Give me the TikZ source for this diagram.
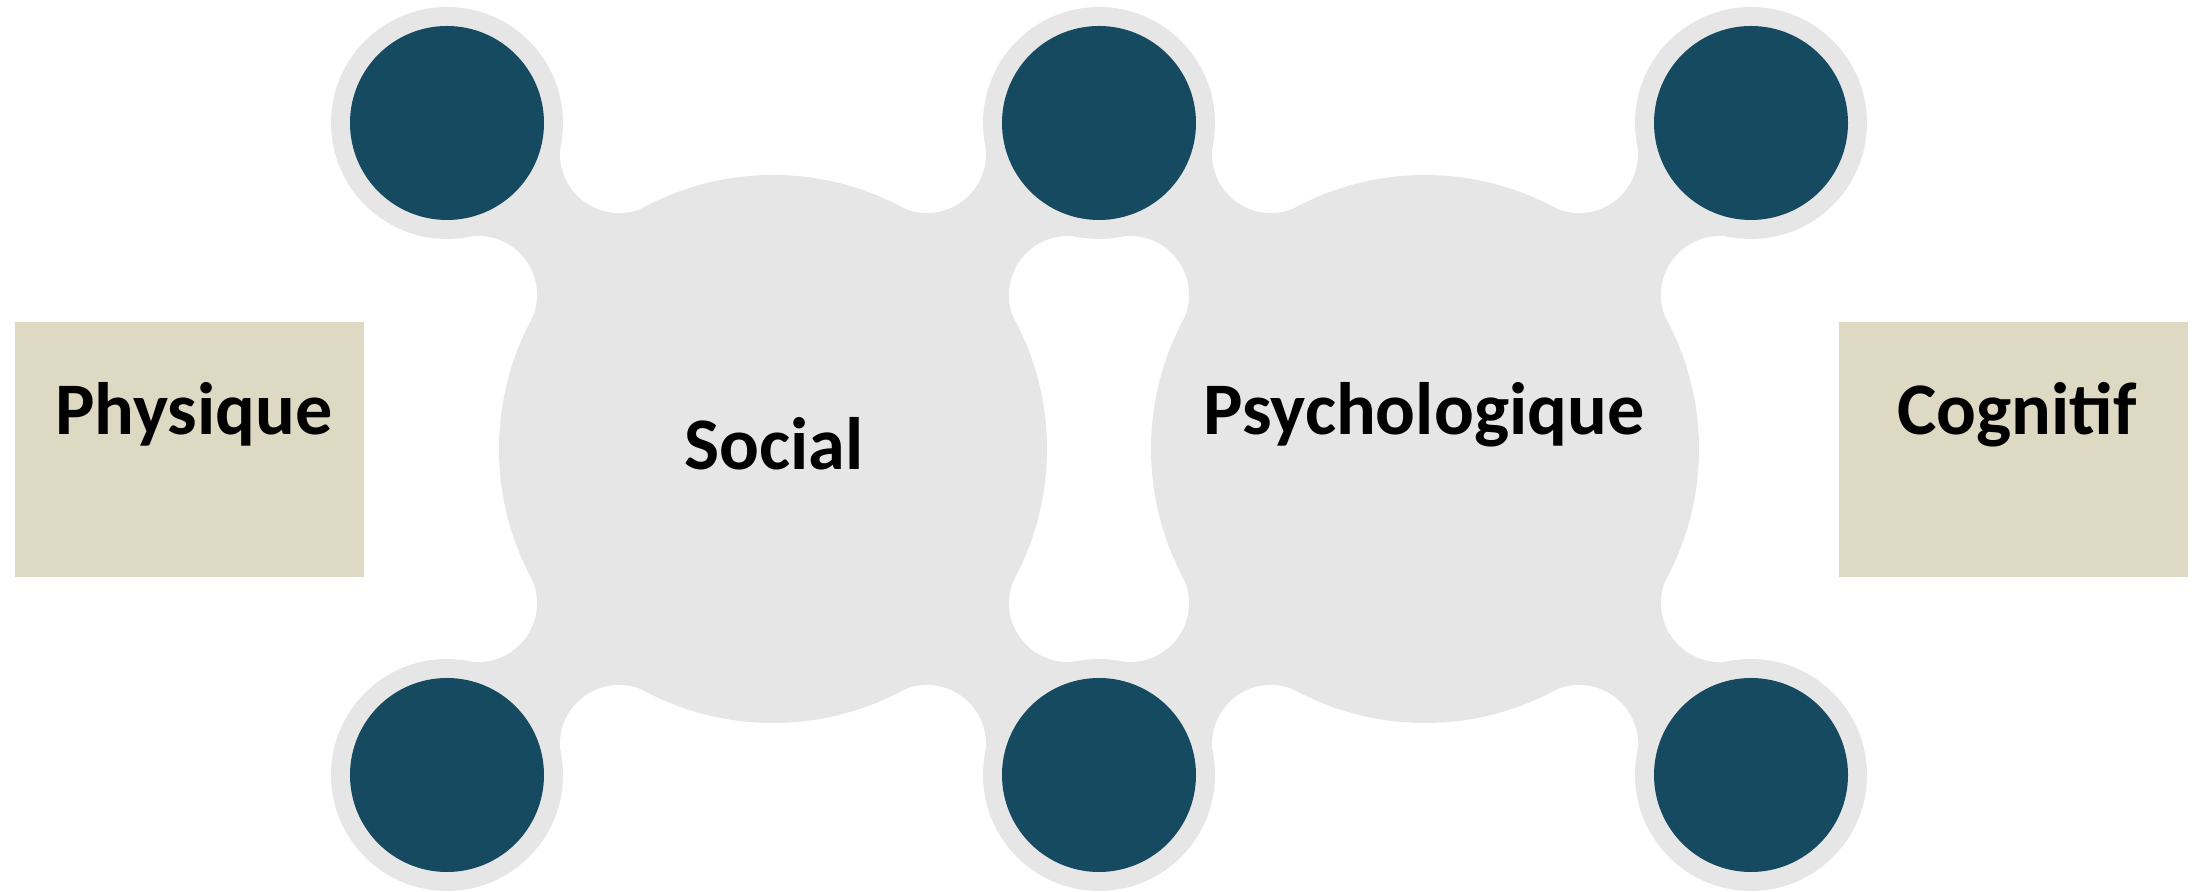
\documentclass[tikz,border=0pt]{standalone}
\usepackage{fontspec}
\setmainfont{Carlito}
\definecolor{lobegray}{HTML}{E6E6E6}
\definecolor{ringblue}{HTML}{164A61}
\definecolor{boxtan}{HTML}{DDD9C3}
\begin{document}
\begin{tikzpicture}[x=0.01cm,y=-0.01cm,
blob/.style={fill=lobegray},
hub/.style={fill=ringblue},
tanbox/.style={fill=boxtan,minimum width=3.49cm,minimum height=2.55cm,inner sep=0pt},
lbl/.style={font=\bfseries\fontsize{21.1}{26}\selectfont,anchor=base,inner sep=0pt}]
\useasboundingbox (0,0) rectangle (2199,892);
% necks between lobes and rings
\foreach \lx in {773,1425}{
\foreach \sx in {-1,1}{
\foreach \sy in {-1,1}{
\fill[blob] (\lx,449)--+({-154*\sx},{-295*\sy})--+({-326*\sx},{-326*\sy})--+({-295*\sx},{-154*\sy})--cycle;
}}}
% fillets
\foreach \lx in {773,1425}{
\foreach \sx in {-1,1}{
\foreach \sy in {-1,1}{
\fill[white] (\lx,449) ++({-154*\sx},{-295*\sy}) circle (59);
\fill[white] (\lx,449) ++({-295*\sx},{-154*\sy}) circle (59);
}}}
% lobes
\fill[blob] (773,449) circle (274);
\fill[blob] (1425,449) circle (274);
% rings
\foreach \rx in {447,1099,1751}{
\foreach \ry in {123,775}{
\fill[blob] (\rx,\ry) circle (116);
\fill[hub] (\rx,\ry) circle (97);
}}
% side boxes
\node[tanbox] (physique) at (189.5,449.5) {};
\node[tanbox] (cognitif) at (2013.5,449.5) {};
\node[lbl] (physiquetxt) at (194,435) {Physique};
\node[lbl] (cognitiftxt) at (2017,435) {Cognitif};
% lobe labels
\node[lbl] (social) at (774,470) {Social};
\node[lbl] (psycho) at (1424,435) {Psychologique};
\end{tikzpicture}
\end{document}
